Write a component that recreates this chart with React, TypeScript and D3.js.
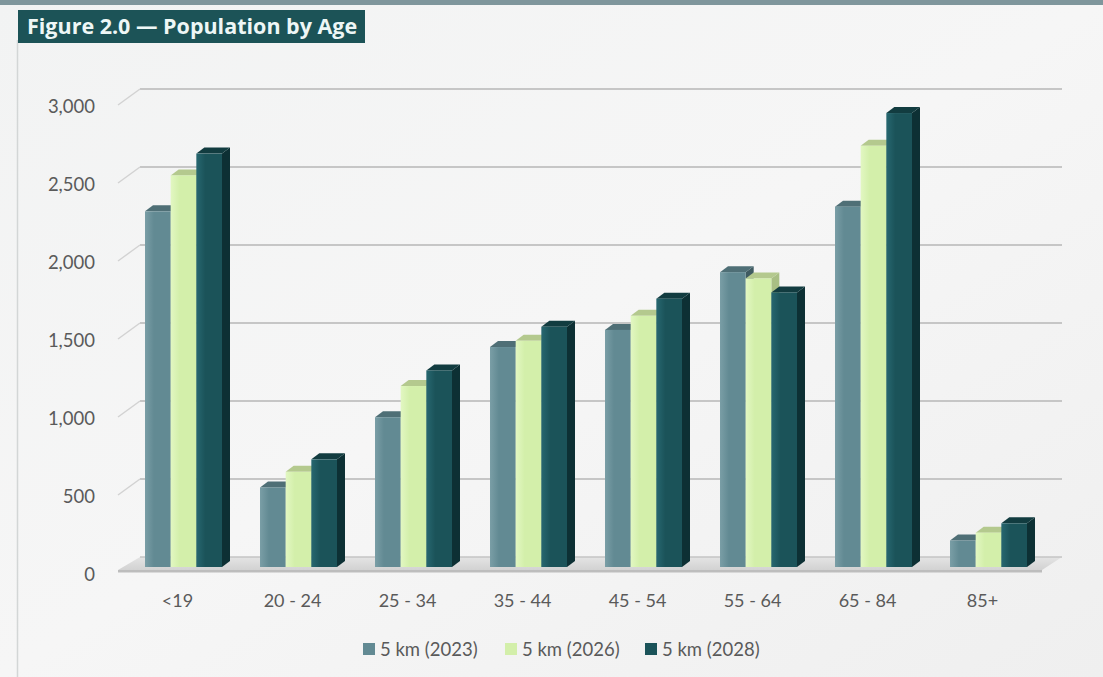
import React from "react";
import * as d3 from "d3";

const categories = ["<19", "20 - 24", "25 - 34", "35 - 44", "45 - 54", "55 - 64", "65 - 84", "85+"];
const seriesNames = ["5 km (2023)", "5 km (2026)", "5 km (2028)"];
const values2023 = [2280, 510, 960, 1410, 1520, 1890, 2310, 170];
const values2026 = [2510, 610, 1160, 1450, 1610, 1850, 2700, 220];
const values2028 = [2650, 690, 1260, 1540, 1720, 1760, 2910, 280];
const yTicks = [0, 500, 1000, 1500, 2000, 2500, 3000];

const W = 1103;
const H = 677;
const FONT = "Lato, 'Open Sans', 'Liberation Sans', sans-serif";
const TITLE_FONT = "'Open Sans', Lato, 'Liberation Sans', sans-serif";

const palette = [
  { front: "#628a93", light: "#7a9ea6", top: "#4f6f76", side: "#3f5b61" },
  { front: "#d3efaa", light: "#e2f7c2", top: "#b4c98e", side: "#a9bf84" },
  { front: "#1b5359", light: "#276770", top: "#123c40", side: "#0d3034" },
];

export default function App() {
  const seriesValues = [values2023, values2026, values2028];
  const dx = 8;
  const dy = -6;

  // back wall scale
  const yBack = d3.scaleLinear().domain([0, 3000]).range([557, 89]);
  // bar front scale
  const yFront = d3.scaleLinear().domain([0, 3000]).range([567, 99]);

  const x = d3.scaleBand<string>().domain(categories).range([126, 1046]).padding(0);
  const xInner = d3.scaleBand<string>().domain(seriesNames).range([19, 96]).padding(0);

  const wallLeft = 140;
  const wallRight = 1062;
  const frontLeft = 118;

  const fmt = d3.format(",");

  return (
    <svg
      width={W}
      height={H}
      viewBox={`0 0 ${W} ${H}`}
      style={{ position: "absolute", left: 0, top: 0, display: "block" }}
      fontFamily={FONT}
    >
      <defs>
        {palette.map((p, i) => (
          <linearGradient key={i} id={`grad${i}`} x1="0" x2="1" y1="0" y2="0">
            <stop offset="0" stopColor={p.light} />
            <stop offset="0.35" stopColor={p.front} />
            <stop offset="1" stopColor={p.front} />
          </linearGradient>
        ))}
        <linearGradient id="floorGrad" x1="0" x2="0" y1="0" y2="1">
          <stop offset="0" stopColor="#e4e4e4" />
          <stop offset="1" stopColor="#d2d2d2" />
        </linearGradient>
        <linearGradient id="bgGrad" x1="0" x2="1" y1="0" y2="1">
          <stop offset="0" stopColor="#f2f3f3" />
          <stop offset="0.5" stopColor="#f6f6f6" />
          <stop offset="1" stopColor="#efefef" />
        </linearGradient>
      </defs>

      <rect x={0} y={0} width={W} height={H} fill="url(#bgGrad)" />
      {/* top band */}
      <rect x={0} y={0} width={W} height={5} fill="#7f969c" />
      {/* left frame line */}
      <line x1={17.5} x2={17.5} y1={40} y2={H} stroke="#d3d6d6" strokeWidth={1.5} />

      {/* title */}
      <rect x={18} y={10} width={347} height={33} fill="#1c5357" />
      <text x={27} y={34} fill="#eef7f6" fontSize={21.5} fontWeight={700} fontFamily={TITLE_FONT}>
        Figure 2.0 — Population by Age
      </text>

      {/* gridlines */}
      {yTicks.filter((t) => t > 0).map((t) => (
        <g key={t}>
          <line x1={wallLeft} x2={wallRight} y1={yBack(t)} y2={yBack(t)} stroke="#c6c6c6" strokeWidth={1.8} />
          <line x1={frontLeft} y1={yBack(t) + 16} x2={wallLeft} y2={yBack(t)} stroke="#d2d2d2" strokeWidth={1.4} />
        </g>
      ))}

      {/* floor */}
      <polygon
        points={`${wallLeft},${yBack(0)} ${wallRight},${yBack(0)} ${wallRight - 20},${yBack(0) + 13} ${frontLeft},${yBack(0) + 13}`}
        fill="url(#floorGrad)"
      />
      <line x1={wallLeft} x2={wallRight} y1={yBack(0)} y2={yBack(0)} stroke="#c4c4c4" strokeWidth={1.5} />
      <polygon
        points={`${frontLeft},${yBack(0) + 13} ${wallRight - 20},${yBack(0) + 13} ${wallRight - 20},${yBack(0) + 15.5} ${frontLeft},${yBack(0) + 15.5}`}
        fill="#bdbdbd"
      />

      {/* y labels */}
      {yTicks.map((t) => (
        <text
          key={t}
          x={95}
          y={yBack(t) + 17}
          textAnchor="end"
          dominantBaseline="central"
          fontSize={18.5}
          fill="#5a5a5a"
        >
          {fmt(t)}
        </text>
      ))}

      {/* bars */}
      {categories.map((c, ci) => (
        <g key={c}>
          {seriesNames.map((s, si) => {
            const v = seriesValues[si][ci];
            const bx = (x(c) as number) + (xInner(s) as number);
            const bw = xInner.bandwidth();
            const yt = yFront(v);
            const yb = yFront(0);
            const p = palette[si];
            return (
              <g key={s}>
                <polygon
                  points={`${bx + bw},${yt} ${bx + bw + dx},${yt + dy} ${bx + bw + dx},${yb + dy} ${bx + bw},${yb}`}
                  fill={p.side}
                />
                <polygon
                  points={`${bx},${yt} ${bx + bw},${yt} ${bx + bw + dx},${yt + dy} ${bx + dx},${yt + dy}`}
                  fill={p.top}
                />
                <rect x={bx} y={yt} width={bw} height={yb - yt} fill={`url(#grad${si})`} />
              </g>
            );
          })}
        </g>
      ))}

      {/* category labels */}
      {categories.map((c) => (
        <text
          key={c}
          x={(x(c) as number) + x.bandwidth() / 2 - 6}
          y={600}
          textAnchor="middle"
          dominantBaseline="central"
          fontSize={18}
          fill="#5a5a5a"
        >
          {c}
        </text>
      ))}

      {/* legend */}
      {seriesNames.map((s, i) => {
        const lx = [363, 505, 645][i];
        return (
          <g key={s}>
            <rect x={lx} y={643} width={12} height={12} fill={palette[i].front} />
            <text x={lx + 17} y={649} dominantBaseline="central" fontSize={18.5} fill="#5a5a5a">
              {s}
            </text>
          </g>
        );
      })}
    </svg>
  );
}
